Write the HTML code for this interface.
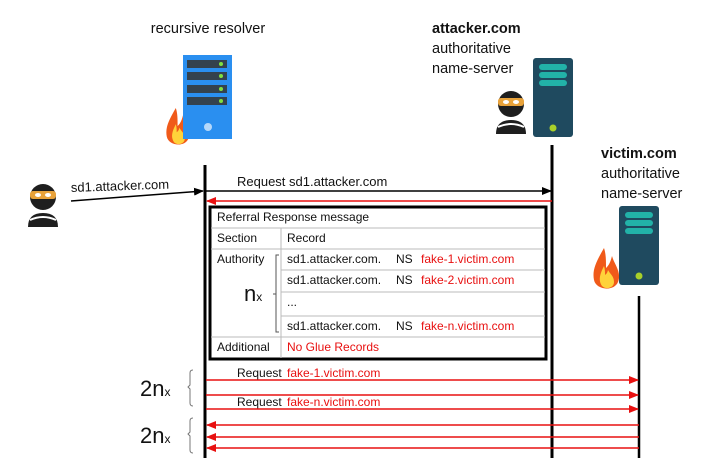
<!DOCTYPE html>
<html><head><meta charset="utf-8"><style>
html,body{margin:0;padding:0;background:#fff;}
svg{display:block;font-family:"Liberation Sans",sans-serif;}
</style></head><body>
<svg width="728" height="476" viewBox="0 0 728 476" xmlns="http://www.w3.org/2000/svg">
<defs>
<g id="thief">
  <circle cx="16" cy="14" r="13" fill="#1e1e1e"/>
  <rect x="3" y="8" width="26" height="8" rx="3" fill="#e8a23a"/>
  <ellipse cx="11" cy="12" rx="3" ry="2" fill="#fff"/>
  <ellipse cx="21" cy="12" rx="3" ry="2" fill="#fff"/>
  <path d="M1 44 Q1 30 16 30 Q31 30 31 44 Z" fill="#1e1e1e"/>
  <path d="M3 37 Q16 31 29 37" stroke="#fff" stroke-width="2" fill="none"/>
</g>
<g id="flame">
  <path d="M12 0 C4 14 0 22 2 32 C4 42 22 44 26 34 C30 24 22 16 20 8 C18 16 16 18 14 20 C14 12 14 6 12 0Z" fill="#f05a1a"/>
  <path d="M12 18 C8 26 6 32 10 38 C14 42 22 40 22 34 C22 28 18 26 16 22 C15 26 14 26 13 27 C13 24 13 21 12 18Z" fill="#ffd23a"/>
</g>
<g id="srv">
  <rect x="0" y="0" width="40" height="79" rx="3" fill="#1f4a5f"/>
  <rect x="6" y="6" width="28" height="6" rx="3" fill="#22b2a8"/>
  <rect x="6" y="14" width="28" height="6" rx="3" fill="#22b2a8"/>
  <rect x="6" y="22" width="28" height="6" rx="3" fill="#22b2a8"/>
  <circle cx="20" cy="70" r="3.5" fill="#a8d02a"/>
</g>
<marker id="ab" markerWidth="10" markerHeight="8" refX="9" refY="4" orient="auto" markerUnits="userSpaceOnUse"><path d="M0 0 L10 4 L0 8Z" fill="#000"/></marker>
<marker id="ar" markerWidth="10" markerHeight="8" refX="9" refY="4" orient="auto" markerUnits="userSpaceOnUse"><path d="M0 0 L10 4 L0 8Z" fill="#e81010"/></marker>
</defs>

<text x="208" y="33" font-size="14.5" text-anchor="middle" fill="#111">recursive resolver</text>
<text x="432" y="33" font-size="14.5" font-weight="bold" fill="#111">attacker.com</text>
<text x="432" y="53" font-size="14.5" fill="#111">authoritative</text>
<text x="432" y="73" font-size="14.5" fill="#111">name-server</text>
<text x="601" y="158" font-size="14.5" font-weight="bold" fill="#111">victim.com</text>
<text x="601" y="178" font-size="14.5" fill="#111">authoritative</text>
<text x="601" y="198" font-size="14.5" fill="#111">name-server</text>

<use href="#flame" x="165" y="108" transform="translate(165 108) scale(0.9) translate(-165 -108)"/>
<rect x="183" y="55" width="49" height="84" fill="#2a8ff0"/>
<rect x="187" y="60" width="40" height="8" fill="#34424e"/>
<rect x="187" y="72" width="40" height="8" fill="#34424e"/>
<rect x="187" y="85" width="40" height="8" fill="#34424e"/>
<rect x="187" y="97" width="40" height="8" fill="#34424e"/>
<circle cx="221" cy="64" r="2" fill="#7fe040"/>
<circle cx="221" cy="76" r="2" fill="#7fe040"/>
<circle cx="221" cy="89" r="2" fill="#7fe040"/>
<circle cx="221" cy="101" r="2" fill="#7fe040"/>
<circle cx="208" cy="127" r="4" fill="#b5d8fa"/>

<use href="#thief" x="495" y="90"/>
<use href="#srv" x="533" y="58"/>
<use href="#flame" x="592" y="248"/>
<use href="#srv" x="619" y="206"/>
<use href="#thief" x="27" y="183"/>

<line x1="205" y1="165" x2="205" y2="458" stroke="#000" stroke-width="3"/>
<line x1="552" y1="145" x2="552" y2="458" stroke="#000" stroke-width="3"/>
<line x1="639" y1="296" x2="639" y2="458" stroke="#000" stroke-width="2.5"/>

<text x="71" y="192" font-size="13" fill="#111" transform="rotate(-2 71 192)">sd1.attacker.com</text>
<line x1="71" y1="201" x2="203" y2="191" stroke="#000" stroke-width="1.5" marker-end="url(#ab)"/>

<text x="237" y="186" font-size="13" fill="#111">Request sd1.attacker.com</text>
<line x1="206" y1="191" x2="551" y2="191" stroke="#000" stroke-width="1.5" marker-end="url(#ab)"/>
<line x1="552" y1="201" x2="207" y2="201" stroke="#e81010" stroke-width="1.5" marker-end="url(#ar)"/>

<g font-size="12" fill="#111">
<rect x="210" y="207" width="336" height="152" fill="#fff" stroke="#000" stroke-width="3"/>
<g stroke="#bbb" stroke-width="1">
<line x1="211" y1="228" x2="545" y2="228"/>
<line x1="211" y1="249" x2="545" y2="249"/>
<line x1="281" y1="270" x2="545" y2="270"/>
<line x1="281" y1="292" x2="545" y2="292"/>
<line x1="281" y1="316" x2="545" y2="316"/>
<line x1="211" y1="337" x2="545" y2="337"/>
<line x1="281" y1="228" x2="281" y2="358"/>
</g>
<text x="217" y="221">Referral Response message</text>
<text x="217" y="242">Section</text>
<text x="287" y="242">Record</text>
<text x="217" y="263">Authority</text>
<text x="287" y="263">sd1.attacker.com.</text><text x="396" y="263">NS</text><text x="421" y="263" fill="#e81010">fake-1.victim.com</text>
<text x="287" y="284">sd1.attacker.com.</text><text x="396" y="284">NS</text><text x="421" y="284" fill="#e81010">fake-2.victim.com</text>
<text x="287" y="306">...</text>
<text x="287" y="330">sd1.attacker.com.</text><text x="396" y="330">NS</text><text x="421" y="330" fill="#e81010">fake-n.victim.com</text>
<text x="217" y="351">Additional</text>
<text x="287" y="351" fill="#e81010">No Glue Records</text>
<path d="M279 255 L276 255 L276 332 L279 332 M276 294 L273 294" stroke="#555" stroke-width="1" fill="none"/>
<text x="244" y="301" font-size="22">n<tspan font-size="12">x</tspan></text>
</g>

<text x="237" y="377" font-size="12" fill="#111">Request</text><text x="287" y="377" font-size="12" fill="#e81010">fake-1.victim.com</text>
<text x="237" y="406" font-size="12" fill="#111">Request</text><text x="287" y="406" font-size="12" fill="#e81010">fake-n.victim.com</text>
<g stroke="#e81010" stroke-width="1.5">
<line x1="206" y1="380" x2="638" y2="380" marker-end="url(#ar)"/>
<line x1="206" y1="395" x2="638" y2="395" marker-end="url(#ar)"/>
<line x1="206" y1="409" x2="638" y2="409" marker-end="url(#ar)"/>
<line x1="639" y1="425" x2="207" y2="425" marker-end="url(#ar)"/>
<line x1="639" y1="437" x2="207" y2="437" marker-end="url(#ar)"/>
<line x1="639" y1="448" x2="207" y2="448" marker-end="url(#ar)"/>
</g>
<path d="M193 370 Q190 370 190 373 L190 385 L188 387 L190 389 L190 403 Q190 406 193 406" stroke="#777" fill="none"/>
<path d="M193 418 Q190 418 190 421 L190 432 L188 434 L190 436 L190 450 Q190 453 193 453" stroke="#777" fill="none"/>
<text x="140" y="396" font-size="22" fill="#111">2n<tspan font-size="12">x</tspan></text>
<text x="140" y="443" font-size="22" fill="#111">2n<tspan font-size="12">x</tspan></text>
</svg>
</body></html>
